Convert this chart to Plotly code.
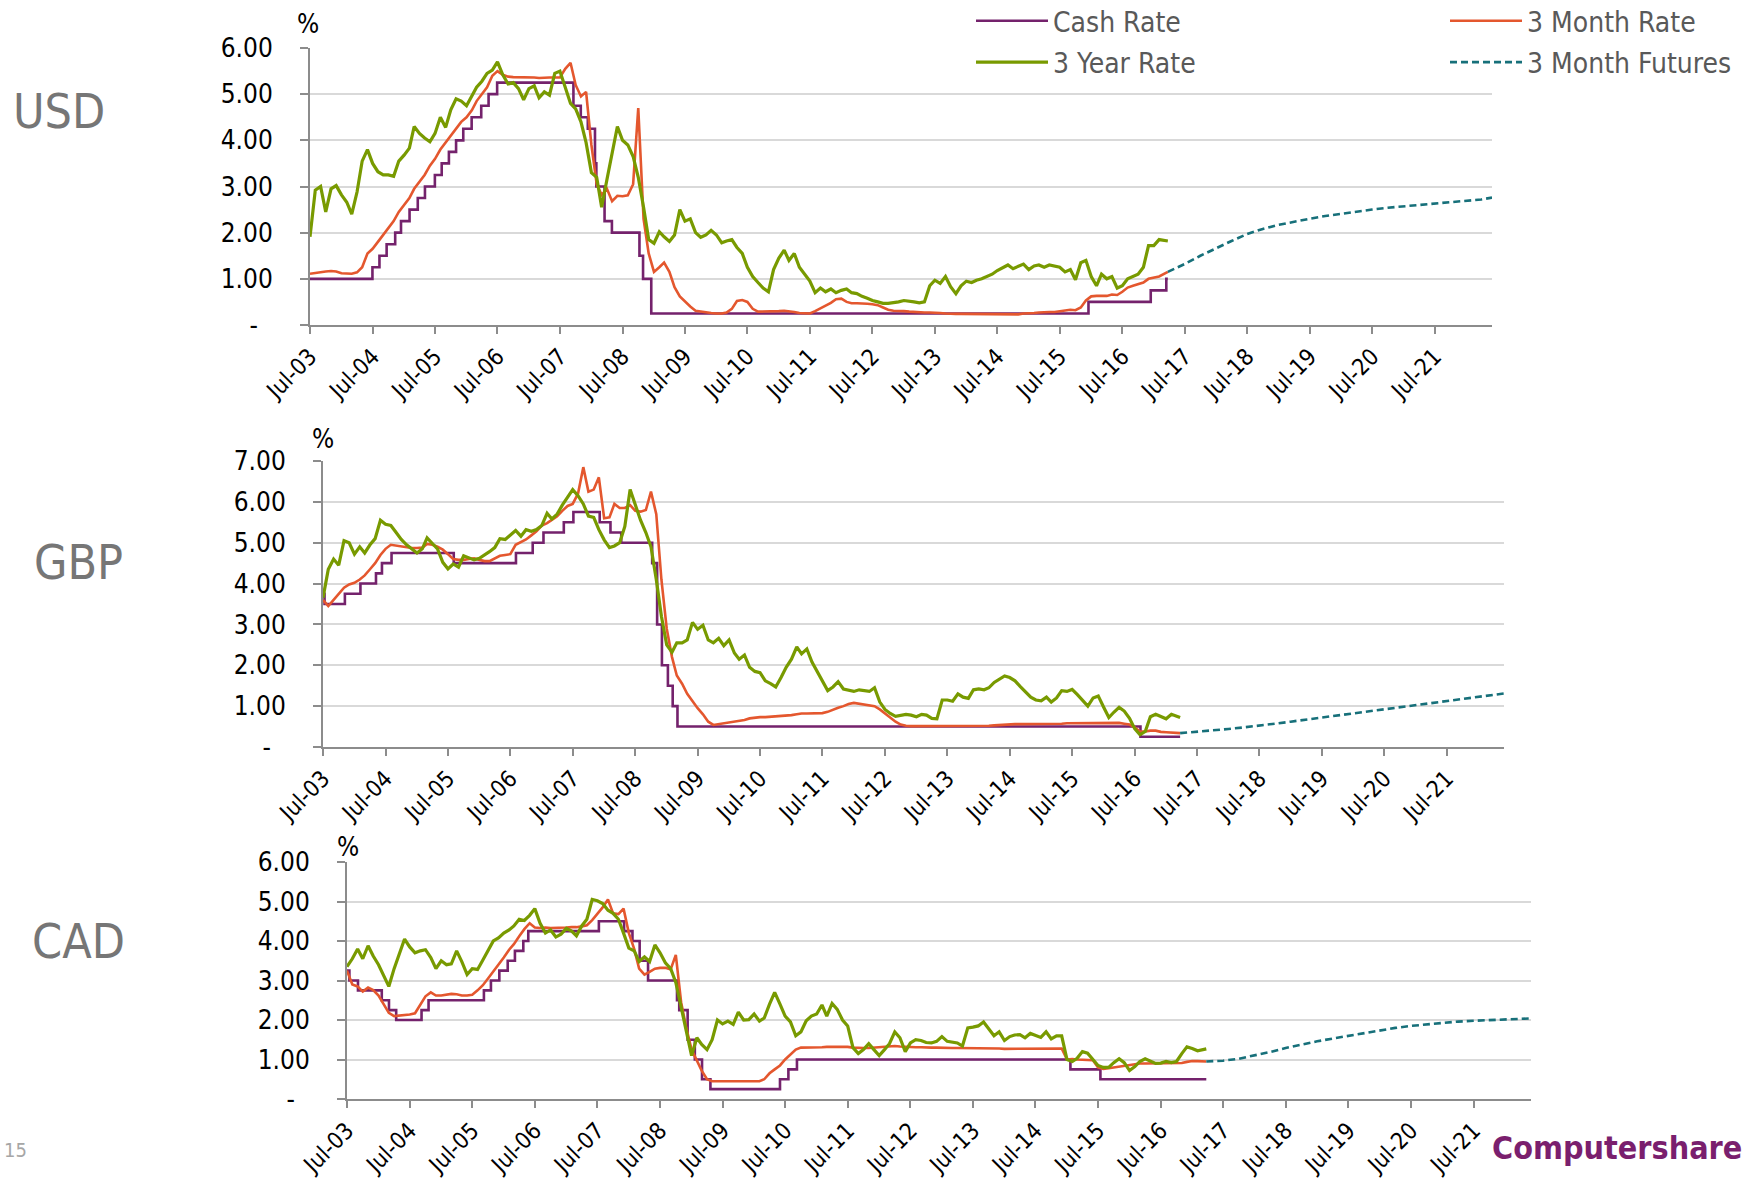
import pandas as pd
import plotly.graph_objects as go

W, H = 1746, 1178

# ---------------- DATA ----------------
# monthly observation dates Jul-2003 .. Mar-2017 (last obs 24-Mar-2017)
month_dates = pd.date_range("2003-07-01", "2017-03-01", freq="MS").strftime("%Y-%m-%d").tolist()
month_dates[-1] = "2017-03-24"

year_ticks = [f"{y}-07-01" for y in range(2003, 2022)]
year_labels = [f"Jul-{y % 100:02d}" for y in range(2003, 2022)]

# USD
usd_cash_dates = ["2003-07-01", "2004-06-30", "2004-08-10", "2004-09-21", "2004-11-10", "2004-12-14",
                  "2005-02-02", "2005-03-22", "2005-05-03", "2005-06-30", "2005-08-09", "2005-09-20",
                  "2005-11-01", "2005-12-13", "2006-01-31", "2006-03-28", "2006-05-10", "2006-06-29",
                  "2007-09-18", "2007-10-31", "2007-12-11", "2008-01-22", "2008-01-30", "2008-03-18",
                  "2008-04-30", "2008-10-08", "2008-10-29", "2008-12-16", "2015-12-16", "2016-12-14",
                  "2017-03-15", "2017-03-24"]
usd_cash_vals = [1.00, 1.25, 1.50, 1.75, 2.00, 2.25, 2.50, 2.75, 3.00, 3.25, 3.50, 3.75, 4.00, 4.25,
                 4.50, 4.75, 5.00, 5.25, 4.75, 4.50, 4.25, 3.50, 3.00, 2.25, 2.00, 1.50, 1.00, 0.25,
                 0.50, 0.75, 1.00, 1.00]
usd_3m = [1.11, 1.13, 1.14, 1.16, 1.17, 1.16, 1.12, 1.12, 1.11, 1.14, 1.25, 1.55,
          1.65, 1.80, 1.95, 2.10, 2.25, 2.45, 2.60, 2.75, 2.95, 3.10, 3.25, 3.45,
          3.60, 3.80, 3.95, 4.10, 4.25, 4.40, 4.50, 4.65, 4.85, 5.00, 5.15, 5.40,
          5.50, 5.42, 5.38, 5.37, 5.37, 5.36, 5.36, 5.36, 5.35, 5.36, 5.36, 5.36,
          5.36, 5.55, 5.68, 5.20, 4.95, 5.05, 3.90, 3.05, 2.82, 2.95, 2.68, 2.80,
          2.79, 2.81, 3.05, 4.70, 2.30, 1.55, 1.15, 1.25, 1.35, 1.15, 0.82, 0.62,
          0.50, 0.40, 0.31, 0.29, 0.28, 0.26, 0.25, 0.25, 0.27, 0.35, 0.52, 0.54,
          0.50, 0.35, 0.29, 0.29, 0.29, 0.30, 0.30, 0.31, 0.30, 0.28, 0.26, 0.25,
          0.25, 0.30, 0.36, 0.41, 0.48, 0.56, 0.57, 0.50, 0.47, 0.47, 0.47, 0.46,
          0.45, 0.43, 0.38, 0.33, 0.31, 0.31, 0.30, 0.29, 0.28, 0.28, 0.27, 0.27,
          0.27, 0.26, 0.25, 0.24, 0.24, 0.24, 0.24, 0.24, 0.23, 0.23, 0.23, 0.23,
          0.23, 0.24, 0.24, 0.23, 0.23, 0.25, 0.25, 0.26, 0.27, 0.28, 0.28, 0.28,
          0.30, 0.32, 0.33, 0.32, 0.38, 0.53, 0.62, 0.63, 0.63, 0.63, 0.66, 0.65,
          0.72, 0.81, 0.85, 0.88, 0.92, 1.00, 1.03, 1.05, 1.15]
usd_3y = [1.91, 2.92, 3.00, 2.45, 2.95, 3.02, 2.82, 2.66, 2.40, 2.88, 3.55, 3.80,
          3.50, 3.32, 3.25, 3.25, 3.22, 3.55, 3.68, 3.83, 4.30, 4.15, 4.05, 3.97,
          4.15, 4.50, 4.28, 4.66, 4.90, 4.85, 4.75, 4.95, 5.15, 5.28, 5.45, 5.52,
          5.70, 5.42, 5.22, 5.25, 5.12, 4.88, 5.12, 5.18, 4.92, 5.05, 4.98, 5.45,
          5.50, 5.15, 4.80, 4.68, 4.40, 3.95, 3.30, 3.20, 2.55, 3.15, 3.75, 4.30,
          4.00, 3.90, 3.65, 3.20, 2.55, 1.85, 1.77, 2.02, 1.91, 1.81, 1.95, 2.50,
          2.25, 2.30, 2.00, 1.90, 1.95, 2.05, 1.95, 1.78, 1.82, 1.85, 1.68, 1.55,
          1.25, 1.05, 0.92, 0.80, 0.72, 1.20, 1.45, 1.62, 1.40, 1.55, 1.25, 1.10,
          0.95, 0.70, 0.80, 0.72, 0.78, 0.70, 0.75, 0.78, 0.70, 0.68, 0.62, 0.58,
          0.53, 0.50, 0.47, 0.47, 0.48, 0.50, 0.53, 0.52, 0.50, 0.48, 0.50, 0.85,
          0.97, 0.90, 1.05, 0.83, 0.68, 0.85, 0.95, 0.92, 0.97, 1.00, 1.05, 1.10,
          1.18, 1.25, 1.30, 1.22, 1.28, 1.32, 1.20, 1.28, 1.30, 1.25, 1.30, 1.27,
          1.25, 1.15, 1.20, 0.98, 1.35, 1.40, 1.05, 0.85, 1.10, 1.00, 1.05, 0.80,
          0.85, 1.00, 1.05, 1.10, 1.25, 1.72, 1.72, 1.85, 1.82]

# GBP
gbp_cash_dates = ["2003-07-01", "2003-07-10", "2003-11-06", "2004-02-05", "2004-05-06", "2004-06-10",
                  "2004-08-05", "2005-08-04", "2006-08-03", "2006-11-09", "2007-01-11", "2007-05-10",
                  "2007-07-05", "2007-12-06", "2008-02-07", "2008-04-10", "2008-10-08", "2008-11-06",
                  "2008-12-04", "2009-01-08", "2009-02-05", "2009-03-05", "2016-08-04", "2017-03-24"]
gbp_cash_vals = [3.75, 3.50, 3.75, 4.00, 4.25, 4.50, 4.75, 4.50, 4.75, 5.00, 5.25, 5.50,
                 5.75, 5.50, 5.25, 5.00, 4.50, 3.00, 2.00, 1.50, 1.00, 0.50, 0.25, 0.25]
gbp_3m = [3.60, 3.45, 3.60, 3.75, 3.90, 3.98, 4.02, 4.10, 4.20, 4.35, 4.50, 4.70,
          4.85, 4.95, 4.93, 4.90, 4.88, 4.87, 4.87, 4.88, 4.97, 4.95, 4.90, 4.83,
          4.72, 4.60, 4.58, 4.58, 4.60, 4.62, 4.58, 4.55, 4.55, 4.62, 4.68, 4.70,
          4.72, 4.95, 5.02, 5.08, 5.18, 5.28, 5.42, 5.48, 5.56, 5.65, 5.78, 5.90,
          5.95, 6.20, 6.85, 6.25, 6.30, 6.60, 5.60, 5.62, 5.95, 5.85, 5.85, 5.92,
          5.78, 5.76, 5.80, 6.25, 5.70, 4.10, 2.90, 2.20, 1.75, 1.55, 1.30, 1.12,
          0.95, 0.80, 0.62, 0.54, 0.56, 0.58, 0.60, 0.62, 0.64, 0.66, 0.70, 0.72,
          0.73, 0.73, 0.74, 0.74, 0.75, 0.76, 0.78, 0.80, 0.82, 0.82, 0.82, 0.83,
          0.83, 0.86, 0.92, 0.96, 1.00, 1.05, 1.08, 1.06, 1.04, 1.02, 1.00, 0.92,
          0.82, 0.72, 0.62, 0.55, 0.52, 0.51, 0.51, 0.51, 0.51, 0.51, 0.51, 0.51,
          0.51, 0.52, 0.52, 0.52, 0.52, 0.52, 0.52, 0.52, 0.52, 0.53, 0.54, 0.55,
          0.56, 0.56, 0.56, 0.56, 0.56, 0.56, 0.56, 0.56, 0.57, 0.57, 0.57, 0.58,
          0.58, 0.58, 0.58, 0.58, 0.58, 0.59, 0.59, 0.59, 0.59, 0.59, 0.57, 0.55,
          0.48, 0.38, 0.38, 0.40, 0.40, 0.37, 0.36, 0.35, 0.34]
gbp_3y = [3.65, 4.35, 4.60, 4.45, 5.05, 5.00, 4.72, 4.90, 4.75, 4.95, 5.10, 5.55,
          5.45, 5.42, 5.25, 5.08, 4.95, 4.85, 4.75, 4.85, 5.12, 4.98, 4.85, 4.52,
          4.36, 4.48, 4.40, 4.68, 4.62, 4.58, 4.62, 4.70, 4.78, 4.88, 5.10, 5.08,
          5.18, 5.30, 5.16, 5.32, 5.28, 5.32, 5.42, 5.72, 5.58, 5.70, 5.92, 6.10,
          6.30, 6.15, 5.95, 5.65, 5.62, 5.32, 5.07, 4.88, 4.92, 5.00, 5.40, 6.30,
          5.90, 5.55, 5.25, 4.90, 4.10, 3.20, 2.50, 2.32, 2.55, 2.55, 2.62, 3.05,
          2.88, 2.98, 2.62, 2.55, 2.66, 2.48, 2.62, 2.30, 2.15, 2.25, 1.95, 1.85,
          1.82, 1.62, 1.55, 1.47, 1.70, 1.95, 2.15, 2.45, 2.28, 2.40, 2.08, 1.85,
          1.62, 1.38, 1.47, 1.60, 1.42, 1.40, 1.36, 1.40, 1.38, 1.36, 1.45, 1.10,
          0.92, 0.82, 0.75, 0.78, 0.80, 0.78, 0.74, 0.80, 0.78, 0.70, 0.69, 1.15,
          1.15, 1.12, 1.30, 1.22, 1.19, 1.40, 1.42, 1.40, 1.45, 1.58, 1.65, 1.74,
          1.70, 1.62, 1.48, 1.35, 1.22, 1.15, 1.13, 1.22, 1.10, 1.20, 1.38, 1.36,
          1.41, 1.28, 1.15, 1.00, 1.20, 1.25, 0.98, 0.72, 0.85, 0.97, 0.88, 0.70,
          0.45, 0.30, 0.38, 0.74, 0.80, 0.75, 0.69, 0.80, 0.72]

# CAD
cad_cash_dates = ["2003-07-01", "2003-07-15", "2003-09-03", "2004-01-20", "2004-03-02", "2004-04-13",
                  "2004-09-08", "2004-10-19", "2005-09-07", "2005-10-18", "2005-12-06", "2006-01-24",
                  "2006-03-07", "2006-04-25", "2006-05-24", "2007-07-10", "2007-12-04", "2008-01-22",
                  "2008-03-04", "2008-04-22", "2008-10-08", "2008-10-21", "2008-12-09", "2009-01-20",
                  "2009-03-03", "2009-04-21", "2010-06-01", "2010-07-20", "2010-09-08", "2015-01-21",
                  "2015-07-15", "2017-03-24"]
cad_cash_vals = [3.25, 3.00, 2.75, 2.50, 2.25, 2.00, 2.25, 2.50, 2.75, 3.00, 3.25, 3.50,
                 3.75, 4.00, 4.25, 4.50, 4.25, 4.00, 3.50, 3.00, 2.50, 2.25, 1.50, 1.00,
                 0.50, 0.25, 0.50, 0.75, 1.00, 0.75, 0.50, 0.50]
cad_3m = [3.25, 2.90, 2.85, 2.72, 2.82, 2.76, 2.62, 2.40, 2.18, 2.10, 2.11, 2.13,
          2.14, 2.17, 2.40, 2.60, 2.70, 2.62, 2.62, 2.64, 2.66, 2.65, 2.62, 2.62,
          2.64, 2.75, 2.88, 3.05, 3.22, 3.40, 3.58, 3.78, 3.92, 4.12, 4.30, 4.45,
          4.34, 4.33, 4.34, 4.33, 4.33, 4.34, 4.34, 4.35, 4.35, 4.37, 4.40, 4.53,
          4.68, 4.85, 5.05, 4.70, 4.68, 4.82, 4.20, 3.80, 3.30, 3.15, 3.22, 3.30,
          3.32, 3.32, 3.28, 3.65, 2.45, 1.80, 1.25, 0.95, 0.72, 0.50, 0.45, 0.45,
          0.45, 0.45, 0.45, 0.45, 0.45, 0.45, 0.45, 0.45, 0.50, 0.65, 0.75, 0.85,
          1.00, 1.12, 1.25, 1.30, 1.30, 1.31, 1.31, 1.31, 1.32, 1.32, 1.32, 1.32,
          1.32, 1.30, 1.29, 1.29, 1.29, 1.30, 1.31, 1.33, 1.34, 1.34, 1.33, 1.32,
          1.32, 1.31, 1.31, 1.30, 1.30, 1.30, 1.29, 1.29, 1.29, 1.29, 1.29, 1.28,
          1.28, 1.28, 1.28, 1.28, 1.28, 1.28, 1.27, 1.27, 1.27, 1.27, 1.27, 1.27,
          1.27, 1.28, 1.28, 1.28, 1.28, 1.28, 1.00, 1.01, 1.00, 0.99, 0.98, 0.98,
          0.80, 0.76, 0.78, 0.80, 0.82, 0.84, 0.86, 0.88, 0.90, 0.90, 0.90, 0.90,
          0.90, 0.90, 0.90, 0.90, 0.91, 0.94, 0.96, 0.96, 0.95]
cad_3y = [3.35, 3.55, 3.80, 3.55, 3.88, 3.62, 3.40, 3.10, 2.85, 3.30, 3.70, 4.05,
          3.85, 3.70, 3.75, 3.78, 3.58, 3.30, 3.50, 3.40, 3.42, 3.75, 3.48, 3.15,
          3.30, 3.28, 3.52, 3.75, 4.00, 4.08, 4.20, 4.28, 4.38, 4.55, 4.52, 4.65,
          4.82, 4.45, 4.20, 4.28, 4.10, 4.17, 4.32, 4.25, 4.13, 4.38, 4.55, 5.05,
          5.02, 4.95, 4.78, 4.70, 4.55, 4.20, 3.82, 3.75, 3.48, 3.60, 3.48, 3.90,
          3.70, 3.45, 3.30, 2.95, 2.35, 1.70, 1.10, 1.55, 1.38, 1.25, 1.50, 2.00,
          1.90, 1.97, 1.89, 2.20, 2.00, 2.01, 2.15, 1.97, 2.05, 2.40, 2.70, 2.40,
          2.10, 1.95, 1.60, 1.70, 1.98, 2.10, 2.15, 2.38, 2.10, 2.42, 2.27, 2.00,
          1.85, 1.30, 1.15, 1.25, 1.40, 1.25, 1.10, 1.25, 1.40, 1.70, 1.55, 1.20,
          1.42, 1.50, 1.48, 1.43, 1.42, 1.46, 1.58, 1.46, 1.45, 1.42, 1.34, 1.80,
          1.82, 1.85, 1.95, 1.78, 1.60, 1.70, 1.48, 1.58, 1.62, 1.63, 1.55, 1.66,
          1.60, 1.56, 1.70, 1.52, 1.60, 1.60, 1.00, 0.95, 1.03, 1.20, 1.16, 1.00,
          0.85, 0.80, 0.80, 0.92, 1.02, 0.92, 0.72, 0.82, 0.95, 1.02, 0.95, 0.90,
          0.91, 0.95, 0.92, 0.95, 1.15, 1.32, 1.28, 1.22, 1.27]

# 3 month futures (quarterly)
fut_dates = ["2017-03-24", "2017-06-30", "2017-09-30", "2017-12-31", "2018-03-31", "2018-06-30",
             "2018-09-30", "2018-12-31", "2019-03-31", "2019-06-30", "2019-09-30", "2019-12-31",
             "2020-03-31", "2020-06-30", "2020-09-30", "2020-12-31", "2021-03-31", "2021-06-30",
             "2021-09-30", "2021-12-31", "2022-03-31", "2022-06-01"]
usd_fut = [1.15, 1.32, 1.50, 1.67, 1.82, 1.97, 2.08, 2.17, 2.24, 2.30, 2.36, 2.41,
           2.46, 2.50, 2.54, 2.57, 2.60, 2.63, 2.66, 2.69, 2.72, 2.76]
gbp_fut = [0.34, 0.37, 0.40, 0.44, 0.48, 0.52, 0.57, 0.62, 0.67, 0.72, 0.77, 0.82,
           0.87, 0.92, 0.97, 1.01, 1.06, 1.11, 1.16, 1.21, 1.26, 1.31]
cad_fut = [0.95, 0.97, 1.02, 1.10, 1.19, 1.29, 1.38, 1.46, 1.53, 1.60, 1.67, 1.74,
           1.80, 1.85, 1.89, 1.93, 1.96, 1.98, 2.00, 2.02, 2.03, 2.04]

currencies = ["USD", "GBP", "CAD"]
y_max = [6, 7, 6]

# ---------------- STYLE / LAYOUT ----------------
C_CASH = "#74226C"
C_3M = "#E4572E"
C_3Y = "#789A00"
C_FUT = "#17707A"
AXIS_C = "#8C8C8C"
GRID_C = "#D9D9D9"
FAM = "DejaVu Sans Condensed, DejaVu Sans, sans-serif"
YTICK_FONT = dict(family=FAM, size=26, color="#000000")
XTICK_FONT = dict(family=FAM, size=23, color="#000000")

# panel boxes in pixels: left, right, top, bottom
panels = [(310, 1492, 48, 325), (323, 1504, 461, 747), (347, 1531, 862, 1099)]

data = {
    "USD": (usd_cash_dates, usd_cash_vals, usd_3m, usd_3y, usd_fut),
    "GBP": (gbp_cash_dates, gbp_cash_vals, gbp_3m, gbp_3y, gbp_fut),
    "CAD": (cad_cash_dates, cad_cash_vals, cad_3m, cad_3y, cad_fut),
}

fig = go.Figure()
layout = dict(
    width=W, height=H, margin=dict(l=0, r=0, t=0, b=0, autoexpand=False),
    paper_bgcolor="white", plot_bgcolor="white", showlegend=True,
)

for i, cur in enumerate(currencies):
    sfx = "" if i == 0 else str(i + 1)
    xa, ya = "x" + sfx, "y" + sfx
    cash_d, cash_v, r3m, r3y, fut = data[cur]
    first = i == 0
    fig.add_trace(go.Scatter(x=cash_d, y=cash_v, mode="lines", line=dict(color=C_CASH, width=2.6, shape="hv"),
                             name="Cash Rate", xaxis=xa, yaxis=ya, showlegend=first,
                             legend="legend", legendgroup="cash", legendrank=1))
    fig.add_trace(go.Scatter(x=month_dates, y=r3m, mode="lines", line=dict(color=C_3M, width=2.6),
                             name="3 Month Rate", xaxis=xa, yaxis=ya, showlegend=first,
                             legend="legend2", legendgroup="m3", legendrank=1))
    fig.add_trace(go.Scatter(x=month_dates, y=r3y, mode="lines", line=dict(color=C_3Y, width=3.2),
                             name="3 Year Rate", xaxis=xa, yaxis=ya, showlegend=first,
                             legend="legend", legendgroup="y3", legendrank=2))
    fig.add_trace(go.Scatter(x=fut_dates, y=fut, mode="lines", line=dict(color=C_FUT, width=2.6, dash="7px,4px"),
                             name="3 Month Futures", xaxis=xa, yaxis=ya, showlegend=first,
                             legend="legend2", legendgroup="fut", legendrank=2))

    l, r, t, b = panels[i]
    layout["xaxis" + sfx] = dict(
        domain=[l / W, r / W], anchor=ya, type="date", automargin=False,
        range=["2003-07-01", "2022-06-01"],
        tickmode="array", tickvals=year_ticks, ticktext=year_labels, tickangle=-45,
        ticks="outside", ticklen=7, tickwidth=2, tickcolor=AXIS_C,
        showline=True, linecolor=AXIS_C, linewidth=2, showgrid=False, zeroline=False,
        tickfont=XTICK_FONT, ticklabelstandoff=0,
    )
    ym = y_max[i]
    layout["yaxis" + sfx] = dict(
        domain=[1 - b / H, 1 - t / H], anchor=xa, range=[0, ym], automargin=False,
        tickmode="array", tickvals=list(range(0, ym + 1)),
        ticktext=["-\u00a0\u00a0"] + [f"{v:.2f}" for v in range(1, ym + 1)],
        ticks="outside", ticklen=8, tickwidth=2, tickcolor=AXIS_C,
        showline=True, linecolor=AXIS_C, linewidth=2,
        showgrid=True, gridcolor=GRID_C, gridwidth=2, zeroline=False,
        tickfont=YTICK_FONT, ticklabelstandoff=22,
    )

LEG_FONT = dict(family=FAM, size=28, color="#595959")
layout["legend"] = dict(x=971 / W, y=1 + 4 / H, xanchor="left", yanchor="top", bgcolor="white",
                        font=LEG_FONT, itemwidth=72, tracegroupgap=2, traceorder="grouped")
layout["legend2"] = dict(x=1445 / W, y=1 + 4 / H, xanchor="left", yanchor="top", bgcolor="rgba(0,0,0,0)",
                         font=LEG_FONT, itemwidth=72, tracegroupgap=2, traceorder="grouped")

# white band hiding the top gridline behind the legend
layout["shapes"] = [dict(type="rect", xref="paper", yref="paper", x0=963 / W, x1=1500 / W,
                         y0=1 - 52 / H, y1=1 - 44 / H, fillcolor="white", line=dict(width=0),
                         layer="above")]

ann = []
pct_pos = [(308, 24), (323, 439), (348, 847)]
for (px, py) in pct_pos:
    ann.append(dict(text="%", x=px / W, y=1 - py / H, xref="paper", yref="paper", showarrow=False,
                    xanchor="center", yanchor="middle", font=dict(family=FAM, size=26, color="#000")))
cur_pos = [(59, 111), (78, 562), (78, 941)]
for cur, (px, py) in zip(currencies, cur_pos):
    ann.append(dict(text=cur, x=px / W, y=1 - py / H, xref="paper", yref="paper", showarrow=False,
                    xanchor="center", yanchor="middle",
                    font=dict(family=FAM, size=48, color="#767676")))
ann.append(dict(text="15", x=2 / W, y=1 - 1150 / H, xref="paper", yref="paper", showarrow=False,
                xanchor="left", yanchor="middle", font=dict(family=FAM, size=20, color="#A6A6A6")))
ann.append(dict(text="<b>Computershare</b>", x=1744 / W, y=1 - 1148 / H, xref="paper", yref="paper", showarrow=False,
                xanchor="right", yanchor="middle",
                font=dict(family=FAM, size=32, color="#7A1F6E")))
layout["annotations"] = ann

fig.update_layout(**layout)
fig.write_html("out.html")
